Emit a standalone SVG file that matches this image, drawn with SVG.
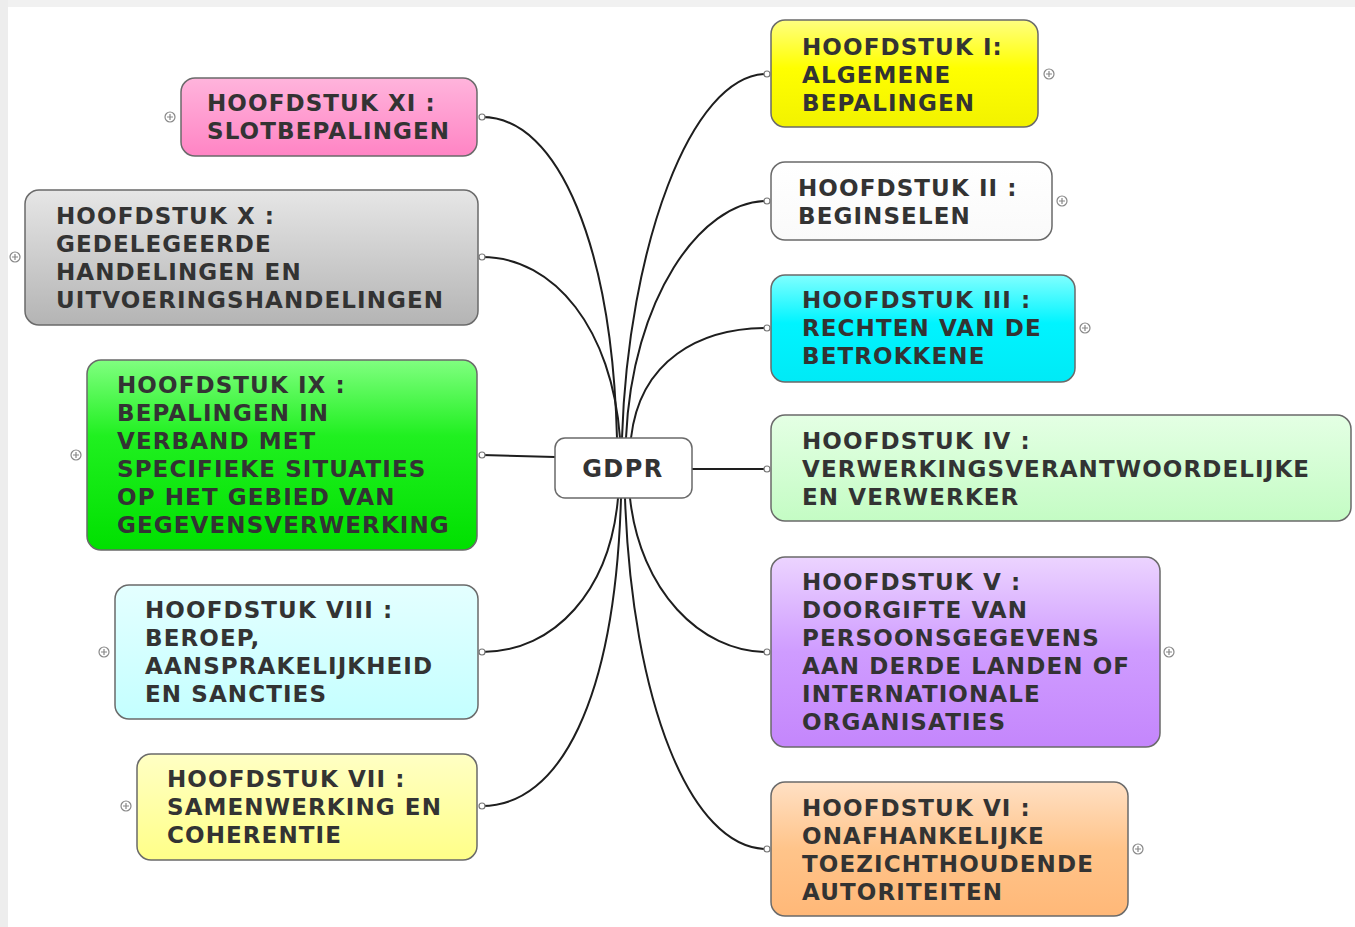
<svg xmlns="http://www.w3.org/2000/svg" width="1355" height="927" viewBox="0 0 1355 927">
<defs>
<style>
.box{stroke:#6a6a6a;stroke-width:1.5}
.t{font-family:"DejaVu Sans",Verdana,sans-serif;font-weight:bold;font-size:23px;letter-spacing:1.1px;fill:#333}
.c{fill:none;stroke:#1e1e1e;stroke-width:2}
.pt{fill:#fff;stroke:#777;stroke-width:1.2}
.ex{fill:#fff;stroke:#888;stroke-width:1.2}
.pl{stroke:#888;stroke-width:1.2}
</style>
<linearGradient id="gY" x1="0" y1="0" x2="0" y2="1"><stop offset="0" stop-color="#ffff80"/><stop offset="0.45" stop-color="#ffff00"/><stop offset="1" stop-color="#f2f200"/></linearGradient>
<linearGradient id="gW" x1="0" y1="0" x2="0" y2="1"><stop offset="0" stop-color="#ffffff"/><stop offset="1" stop-color="#fafafa"/></linearGradient>
<linearGradient id="gC" x1="0" y1="0" x2="0" y2="1"><stop offset="0" stop-color="#80ffff"/><stop offset="0.45" stop-color="#00f4ff"/><stop offset="1" stop-color="#00eaf6"/></linearGradient>
<linearGradient id="gLG" x1="0" y1="0" x2="0" y2="1"><stop offset="0" stop-color="#e4ffe4"/><stop offset="1" stop-color="#c4fcc4"/></linearGradient>
<linearGradient id="gP" x1="0" y1="0" x2="0" y2="1"><stop offset="0" stop-color="#ecd4ff"/><stop offset="0.5" stop-color="#cf9cff"/><stop offset="1" stop-color="#c486fc"/></linearGradient>
<linearGradient id="gO" x1="0" y1="0" x2="0" y2="1"><stop offset="0" stop-color="#ffe0c4"/><stop offset="0.5" stop-color="#ffc48a"/><stop offset="1" stop-color="#ffb878"/></linearGradient>
<linearGradient id="gPk" x1="0" y1="0" x2="0" y2="1"><stop offset="0" stop-color="#ffb4dc"/><stop offset="1" stop-color="#ff84c4"/></linearGradient>
<linearGradient id="gG" x1="0" y1="0" x2="0" y2="1"><stop offset="0" stop-color="#e6e6e6"/><stop offset="1" stop-color="#b4b4b4"/></linearGradient>
<linearGradient id="gGr" x1="0" y1="0" x2="0" y2="1"><stop offset="0" stop-color="#80ff80"/><stop offset="0.4" stop-color="#20f020"/><stop offset="1" stop-color="#00e000"/></linearGradient>
<linearGradient id="gLC" x1="0" y1="0" x2="0" y2="1"><stop offset="0" stop-color="#e4ffff"/><stop offset="1" stop-color="#c4ffff"/></linearGradient>
<linearGradient id="gLY" x1="0" y1="0" x2="0" y2="1"><stop offset="0" stop-color="#ffffc4"/><stop offset="1" stop-color="#ffff88"/></linearGradient>
</defs>
<rect x="0" y="0" width="1355" height="927" fill="#fff"/>
<rect x="0" y="0" width="1355" height="7" fill="#f1f1f1"/>
<rect x="0" y="0" width="8" height="927" fill="#ededed"/>

<g id="connectors">
<path class="c" d="M622 438 C628 250 690 74 767 74"/>
<path class="c" d="M626 438 C632 300 700 201 767 201"/>
<path class="c" d="M631 438 C640 360 700 328 767 328"/>
<path class="c" d="M692 469 L767 469"/>
<path class="c" d="M630 498 C640 590 700 652 767 652"/>
<path class="c" d="M625 498 C632 700 690 849 767 849"/>
<path class="c" d="M617 438 C612 250 560 117 482 117"/>
<path class="c" d="M620 438 C612 330 555 257 482 257"/>
<path class="c" d="M555 457 L482 455"/>
<path class="c" d="M618 498 C610 590 555 652 482 652"/>
<path class="c" d="M621 498 C615 700 560 806 482 806"/>
</g>

<g id="gdpr">
<rect class="box" x="555" y="438" width="137" height="60" rx="10" fill="#fff"/>
<text class="t" x="623" y="477" text-anchor="middle" style="font-size:24px;letter-spacing:1.5px">GDPR</text>
</g>

<g id="h1">
<rect class="box" x="771" y="20" width="267" height="107" rx="14" fill="url(#gY)"/>
<text class="t"><tspan x="802" y="55">HOOFDSTUK I:</tspan><tspan x="802" y="83">ALGEMENE</tspan><tspan x="802" y="111">BEPALINGEN</tspan></text>
<circle class="pt" cx="767" cy="74" r="3"/>
<circle class="ex" cx="1049" cy="74" r="5"/><path class="pl" d="M1046 74h6M1049 71v6"/>
</g>

<g id="h2">
<rect class="box" x="771" y="162" width="281" height="78" rx="14" fill="url(#gW)"/>
<text class="t"><tspan x="798" y="196">HOOFDSTUK II :</tspan><tspan x="798" y="224">BEGINSELEN</tspan></text>
<circle class="pt" cx="767" cy="201" r="3"/>
<circle class="ex" cx="1062" cy="201" r="5"/><path class="pl" d="M1059 201h6M1062 198v6"/>
</g>

<g id="h3">
<rect class="box" x="771" y="275" width="304" height="107" rx="14" fill="url(#gC)"/>
<text class="t"><tspan x="802" y="308">HOOFDSTUK III :</tspan><tspan x="802" y="336">RECHTEN VAN DE</tspan><tspan x="802" y="364">BETROKKENE</tspan></text>
<circle class="pt" cx="767" cy="328" r="3"/>
<circle class="ex" cx="1085" cy="328" r="5"/><path class="pl" d="M1082 328h6M1085 325v6"/>
</g>

<g id="h4">
<rect class="box" x="771" y="415" width="580" height="106" rx="14" fill="url(#gLG)"/>
<text class="t"><tspan x="802" y="449">HOOFDSTUK IV :</tspan><tspan x="802" y="477">VERWERKINGSVERANTWOORDELIJKE</tspan><tspan x="802" y="505">EN VERWERKER</tspan></text>
<circle class="pt" cx="767" cy="469" r="3"/>
</g>

<g id="h5">
<rect class="box" x="771" y="557" width="389" height="190" rx="14" fill="url(#gP)"/>
<text class="t"><tspan x="802" y="590">HOOFDSTUK V :</tspan><tspan x="802" y="618">DOORGIFTE VAN</tspan><tspan x="802" y="646">PERSOONSGEGEVENS</tspan><tspan x="802" y="674">AAN DERDE LANDEN OF</tspan><tspan x="802" y="702">INTERNATIONALE</tspan><tspan x="802" y="730">ORGANISATIES</tspan></text>
<circle class="pt" cx="767" cy="652" r="3"/>
<circle class="ex" cx="1169" cy="652" r="5"/><path class="pl" d="M1166 652h6M1169 649v6"/>
</g>

<g id="h6">
<rect class="box" x="771" y="782" width="357" height="134" rx="14" fill="url(#gO)"/>
<text class="t"><tspan x="802" y="816">HOOFDSTUK VI :</tspan><tspan x="802" y="844">ONAFHANKELIJKE</tspan><tspan x="802" y="872">TOEZICHTHOUDENDE</tspan><tspan x="802" y="900">AUTORITEITEN</tspan></text>
<circle class="pt" cx="767" cy="849" r="3"/>
<circle class="ex" cx="1138" cy="849" r="5"/><path class="pl" d="M1135 849h6M1138 846v6"/>
</g>

<g id="h11">
<rect class="box" x="181" y="78" width="296" height="78" rx="14" fill="url(#gPk)"/>
<text class="t"><tspan x="207" y="111">HOOFDSTUK XI :</tspan><tspan x="207" y="139">SLOTBEPALINGEN</tspan></text>
<circle class="pt" cx="482" cy="117" r="3"/>
<circle class="ex" cx="170" cy="117" r="5"/><path class="pl" d="M167 117h6M170 114v6"/>
</g>

<g id="h10">
<rect class="box" x="25" y="190" width="453" height="135" rx="14" fill="url(#gG)"/>
<text class="t"><tspan x="56" y="224">HOOFDSTUK X :</tspan><tspan x="56" y="252">GEDELEGEERDE</tspan><tspan x="56" y="280">HANDELINGEN EN</tspan><tspan x="56" y="308">UITVOERINGSHANDELINGEN</tspan></text>
<circle class="pt" cx="482" cy="257" r="3"/>
<circle class="ex" cx="15" cy="257" r="5"/><path class="pl" d="M12 257h6M15 254v6"/>
</g>

<g id="h9">
<rect class="box" x="87" y="360" width="390" height="190" rx="14" fill="url(#gGr)"/>
<text class="t"><tspan x="117" y="393">HOOFDSTUK IX :</tspan><tspan x="117" y="421">BEPALINGEN IN</tspan><tspan x="117" y="449">VERBAND MET</tspan><tspan x="117" y="477">SPECIFIEKE SITUATIES</tspan><tspan x="117" y="505">OP HET GEBIED VAN</tspan><tspan x="117" y="533">GEGEVENSVERWERKING</tspan></text>
<circle class="pt" cx="482" cy="455" r="3"/>
<circle class="ex" cx="76" cy="455" r="5"/><path class="pl" d="M73 455h6M76 452v6"/>
</g>

<g id="h8">
<rect class="box" x="115" y="585" width="363" height="134" rx="14" fill="url(#gLC)"/>
<text class="t"><tspan x="145" y="618">HOOFDSTUK VIII :</tspan><tspan x="145" y="646">BEROEP,</tspan><tspan x="145" y="674">AANSPRAKELIJKHEID</tspan><tspan x="145" y="702">EN SANCTIES</tspan></text>
<circle class="pt" cx="482" cy="652" r="3"/>
<circle class="ex" cx="104" cy="652" r="5"/><path class="pl" d="M101 652h6M104 649v6"/>
</g>

<g id="h7">
<rect class="box" x="137" y="754" width="340" height="106" rx="14" fill="url(#gLY)"/>
<text class="t"><tspan x="167" y="787">HOOFDSTUK VII :</tspan><tspan x="167" y="815">SAMENWERKING EN</tspan><tspan x="167" y="843">COHERENTIE</tspan></text>
<circle class="pt" cx="482" cy="806" r="3"/>
<circle class="ex" cx="126" cy="806" r="5"/><path class="pl" d="M123 806h6M126 803v6"/>
</g>
</svg>
